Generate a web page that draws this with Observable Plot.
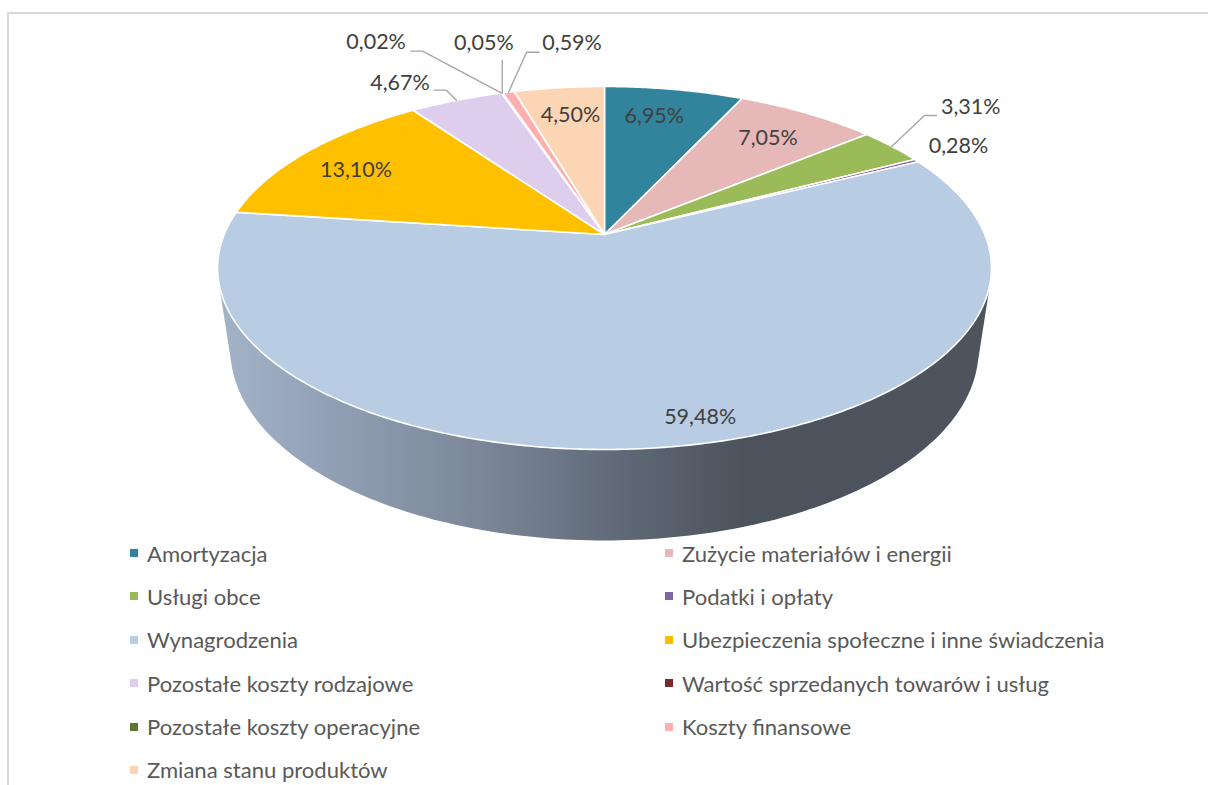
<!DOCTYPE html>
<html lang="pl">
<head>
<meta charset="utf-8">
<script src="https://cdn.jsdelivr.net/npm/d3@7"></script>
<script src="https://cdn.jsdelivr.net/npm/@observablehq/plot@0.6"></script>
<style>
  html, body { margin: 0; padding: 0; background: #fff; overflow: hidden; width: 1208px; height: 785px; }
  #frame { position: absolute; left: 7px; top: 12px; width: 1400px; height: 1000px; border: 2px solid #d9d9d9; box-sizing: border-box; }
  #chart { position: relative; }
  #chart svg { display: block; background: transparent; }
  #legend { position: relative; display: grid; grid-template-columns: 535px 535px; grid-auto-rows: 24px; row-gap: 19.4px;
            padding-left: 130px; font-family: Lato, sans-serif; font-size: 22.05px; color: #595959; }
  .item { display: flex; align-items: center; white-space: nowrap; }
  .sw { width: 8px; height: 8px; margin-right: 9px; flex: none; }
</style>
</head>
<body>
<div id="frame"></div>
<div id="chart"></div>
<div id="legend"></div>
<script>
const names = ["Amortyzacja","Zużycie materiałów i energii","Usługi obce","Podatki i opłaty","Wynagrodzenia",
  "Ubezpieczenia społeczne i inne świadczenia","Pozostałe koszty rodzajowe","Wartość sprzedanych towarów i usług",
  "Pozostałe koszty operacyjne","Koszty finansowe","Zmiana stanu produktów"];
const shares = [6.95,7.05,3.31,0.28,59.48,13.10,4.67,0.02,0.05,0.59,4.50];
const labels = ["6,95%","7,05%","3,31%","0,28%","59,48%","13,10%","4,67%","0,02%","0,05%","0,59%","4,50%"];
const colors = ["#31849b","#e6b8b7","#9bbb59","#8064a2","#b8cce4","#ffc000","#dfcdee","#772c2a","#5f7530","#ffafaf","#fcd5b5"];

// label offset from each slice's rim midpoint, in pixels
const labelDx = [-20,-39.5,79,42,18,49,-56.4,-125.5,-18.4,63.5,11.3];
const labelDy = [27,25,-39,-15,-29,18.5,-17,-50.6,-49.5,-48.7,27.7];
// leader bends relative to the rim midpoint, in pixels
const leaderBends = {
  2: [[32.7,-30.9],[44.7,-30.9]],
  6: [[-10,-10.2],[-22,-10.2]],
  7: [[-79,-41.9],[-90.6,-41.9]],
  8: [[0,-32.5]],
  9: [[18,-40],[30.5,-40]]
};

// perspective view of the tilted disc
const cx = 604, cy = 234, ax = 380.3, ay = 175.3, persp = 0.1846;
const lowerScale = 0.0334, lowerDrop = 0.4815;
const toRad = p => p / 100 * 2 * Math.PI;
const top3d = (a, r = 1) => {
  const u = r * Math.sin(a), v = -r * Math.cos(a), d = 1 - persp * v;
  return {x: u / d, y: v / d};
};
const low3d = a => {
  const u = Math.sin(a), v = -Math.cos(a), d = 1 - persp * v + lowerScale;
  return {x: u / d, y: (v + lowerDrop) / d};
};

let cum = 0;
const slicePts = [], anchors = [];
names.forEach((name, i) => {
  const a0 = toRad(cum), a1 = toRad(cum + shares[i]);
  const n = Math.max(2, Math.ceil((a1 - a0) / 0.01));
  const c = top3d(0, 0);
  slicePts.push({name, ...c});
  for (let j = 0; j <= n; j++) slicePts.push({name, ...top3d(a0 + (a1 - a0) * j / n)});
  slicePts.push({name, ...c});
  anchors.push({name, label: labels[i], ...top3d((a0 + a1) / 2)});
  cum += shares[i];
});

const rimPts = [];
for (let d = 0; d < 360; d += 1) {
  const a = d * Math.PI / 180;
  const t = top3d(a), l = low3d(a);
  rimPts.push([t.x, t.y], [l.x, l.y]);
}
const hull = d3.polygonHull(rimPts);
hull.push(hull[0]);

const leaders = [];
for (const [i, bends] of Object.entries(leaderBends)) {
  const p = anchors[i];
  leaders.push({k: i, x: p.x, y: p.y});
  for (const [bx, by] of bends) leaders.push({k: i, x: p.x + bx / ax, y: p.y + by / ay});
}

const shade = () => {
  const defs = d3.create("svg:defs");
  const g = defs.append("linearGradient").attr("id", "wallShade")
    .attr("gradientUnits", "userSpaceOnUse").attr("x1", 218).attr("x2", 990).attr("y1", 0).attr("y2", 0);
  [[0,"#a3b4c8"],[0.15,"#919fb4"],[0.35,"#7a8697"],[0.5,"#626c7b"],[0.68,"#4c535c"],[1,"#4d545c"]]
    .forEach(([o, c]) => g.append("stop").attr("offset", o).attr("stop-color", c));
  return defs.node();
};

const marks = [
  shade,
  Plot.line(hull, {x: d => d[0], y: d => d[1], fill: "url(#wallShade)", stroke: "none"}),
  Plot.line(slicePts, {x: "x", y: "y", z: "name", fill: "name", stroke: "white", strokeWidth: 1.6, strokeLinejoin: "round"}),
  Plot.line(leaders, {x: "x", y: "y", z: "k", stroke: "#a6a6a6", strokeWidth: 1.4})
];
anchors.forEach((p, i) => marks.push(Plot.text([p], {
  x: "x", y: "y", text: "label", dx: labelDx[i], dy: labelDy[i],
  fontFamily: "Lato, sans-serif", fontSize: 21.5, fill: "#404040"
})));

const plot = Plot.plot({
  width: 1208, height: 541,
  margin: 0,
  x: {domain: [-1, 1], range: [cx - ax, cx + ax], axis: null},
  y: {domain: [-1, 1], range: [cy - ay, cy + ay], axis: null},
  color: {type: "ordinal", domain: names, range: colors},
  marks
});
document.getElementById("chart").append(plot);

const legend = document.getElementById("legend");
names.forEach((n, i) => {
  const el = document.createElement("div"); el.className = "item";
  const s = document.createElement("span"); s.className = "sw"; s.style.background = colors[i];
  const t = document.createElement("span"); t.textContent = n;
  el.append(s, t); legend.append(el);
});
</script>
</body>
</html>
